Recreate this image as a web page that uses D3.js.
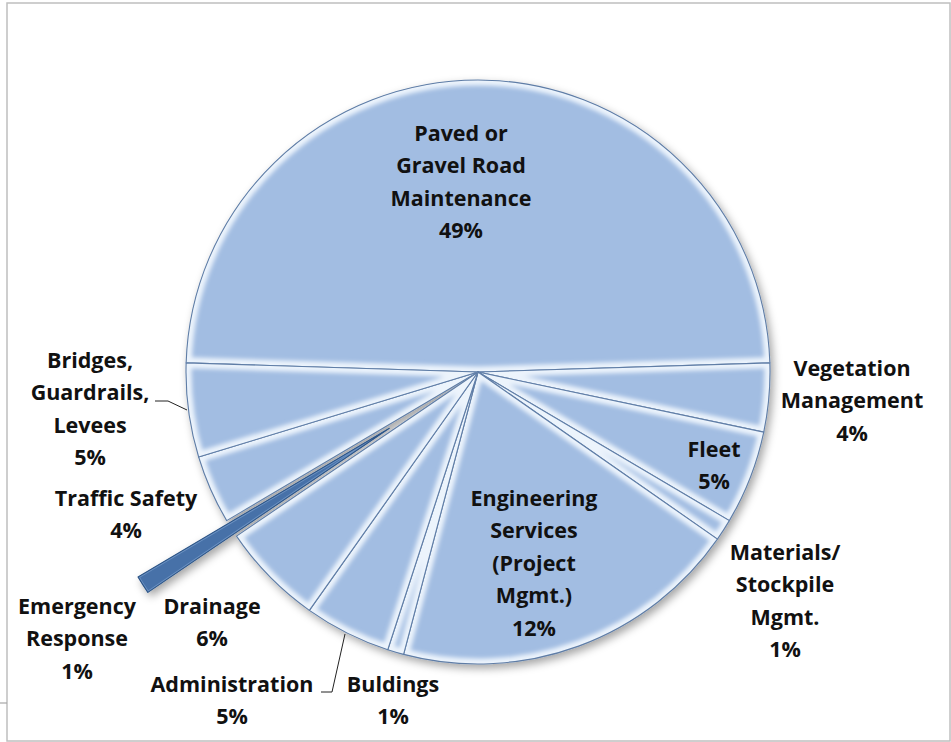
<!DOCTYPE html>
<html>
<head>
<meta charset="utf-8">
<script src="https://cdn.jsdelivr.net/npm/d3@7"></script>
<style>
  html, body { margin: 0; padding: 0; background: #fff; }
  svg { display: block; }
  .lbl { font-family: "Open Sans", "Noto Sans", sans-serif; font-weight: 700; font-size: 21.5px; fill: #111; }
</style>
</head>
<body>
<svg id="chart" width="951" height="742"></svg>
<script>
// Slice order, clockwise from just above 9 o'clock
const categories = [
  'Paved or Gravel Road Maintenance', 'Vegetation Management', 'Fleet',
  'Materials/Stockpile Mgmt.', 'Engineering Services (Project Mgmt.)', 'Buldings',
  'Administration', 'Drainage', 'Emergency Response', 'Traffic Safety',
  'Bridges, Guardrails, Levees'
];
// share of the circle as drawn (the printed percentages below are the chart's own labels)
const shares = [49.0, 3.8, 5.2, 1.2, 19.4, 0.9, 4.8, 5.7, 1.0, 3.8, 5.2];
const pctLabels = ['49%', '4%', '5%', '1%', '12%', '1%', '5%', '6%', '1%', '4%', '5%'];
const labelLines = [
  ['Paved or', 'Gravel Road', 'Maintenance'],
  ['Vegetation', 'Management'],
  ['Fleet'],
  ['Materials/', 'Stockpile', 'Mgmt.'],
  ['Engineering', 'Services', '(Project', 'Mgmt.)'],
  ['Buldings'],
  ['Administration'],
  ['Drainage'],
  ['Emergency', 'Response'],
  ['Traffic Safety'],
  ['Bridges,', 'Guardrails,', 'Levees']
];
const exploded = 'Emergency Response';

// layout
const cx = 478, cy = 372, R = 292;
const startDeg = -88.2;
const lineH = 32.5;
// label block anchor (centre x, first line centre y)
const labelPos = {
  'Paved or Gravel Road Maintenance': [461, 133],
  'Vegetation Management': [852, 368],
  'Fleet': [714, 449],
  'Materials/Stockpile Mgmt.': [785, 552],
  'Engineering Services (Project Mgmt.)': [534, 498],
  'Buldings': [393, 684],
  'Administration': [232, 684],
  'Drainage': [212, 606],
  'Emergency Response': [77, 606],
  'Traffic Safety': [126, 498],
  'Bridges, Guardrails, Levees': [90, 360]
};

const svg = d3.select('#chart');
const defs = svg.append('defs');

const sh = defs.append('filter').attr('id', 'shadow')
  .attr('x', '-20%').attr('y', '-20%').attr('width', '140%').attr('height', '140%');
sh.append('feDropShadow').attr('dx', 3).attr('dy', 4).attr('stdDeviation', 4)
  .attr('flood-color', '#000').attr('flood-opacity', 0.35);

const blur = defs.append('filter').attr('id', 'soft');
blur.append('feGaussianBlur').attr('stdDeviation', 2.2);

// frame
svg.append('rect').attr('x', 7).attr('y', 3).attr('width', 943).attr('height', 738)
  .attr('fill', 'none').attr('stroke', '#bfbfbf').attr('stroke-width', 1.5);
svg.append('line').attr('x1', 0).attr('x2', 7).attr('y1', 703).attr('y2', 703)
  .attr('stroke', '#a6a6a6').attr('stroke-width', 1.2);

const data = categories.map((c, i) => ({ name: c, share: shares[i], i }));

const pie = d3.pie().sort(null).value(d => d.share)
  .startAngle(startDeg * Math.PI / 180)
  .endAngle(startDeg * Math.PI / 180 + 2 * Math.PI);
const arcs = pie(data);
const arc = d3.arc().innerRadius(0).outerRadius(R);

const explodeBy = 105;
function offset(a) {
  if (a.data.name !== exploded) return [0, 0];
  const m = (a.startAngle + a.endAngle) / 2;
  return [Math.sin(m) * explodeBy, -Math.cos(m) * explodeBy];
}

const gPie = svg.append('g').attr('transform', `translate(${cx},${cy})`)
  .attr('filter', 'url(#shadow)');

arcs.forEach((a, i) => {
  const [ox, oy] = offset(a);
  const dark = a.data.name === exploded;
  const g = gPie.append('g').attr('transform', `translate(${ox},${oy})`);
  const d = arc(a);
  defs.append('clipPath').attr('id', 'clip' + i).append('path').attr('d', d);

  g.append('path').attr('d', d)
    .attr('fill', dark ? '#4671a8' : '#a2bde2');
  // bevel highlight along the edges (kept thin on the dark sliver)
  g.append('path').attr('d', d)
    .attr('fill', 'none')
    .attr('stroke', dark ? '#86a9d6' : '#f4f9ff')
    .attr('stroke-width', dark ? 3 : 11)
    .attr('stroke-opacity', dark ? 0.6 : 0.9)
    .attr('filter', dark ? null : 'url(#soft)')
    .attr('clip-path', `url(#clip${i})`);
  g.append('path').attr('d', d)
    .attr('fill', 'none')
    .attr('stroke', dark ? '#2d5587' : '#5f7da6')
    .attr('stroke-width', 1.1)
    .attr('stroke-linejoin', 'round');
});

// labels
const gLbl = svg.append('g');
data.forEach((d, i) => {
  const [x, y0] = labelPos[d.name];
  const lines = labelLines[i].concat([pctLabels[i]]);
  const t = gLbl.append('text').attr('class', 'lbl')
    .attr('text-anchor', 'middle');
  lines.forEach((s, k) => {
    t.append('tspan').attr('x', x).attr('y', y0 + k * lineH)
      .attr('dy', '0.35em').text(s);
  });
});

// leader lines
const leaders = [
  [[155, 401], [168, 401], [187, 410]],
  [[321, 692], [332, 692], [345, 634]]
];
const line = d3.line();
leaders.forEach(p => {
  svg.append('path').attr('d', line(p)).attr('fill', 'none')
    .attr('stroke', '#222').attr('stroke-width', 1);
});
</script>
</body>
</html>
